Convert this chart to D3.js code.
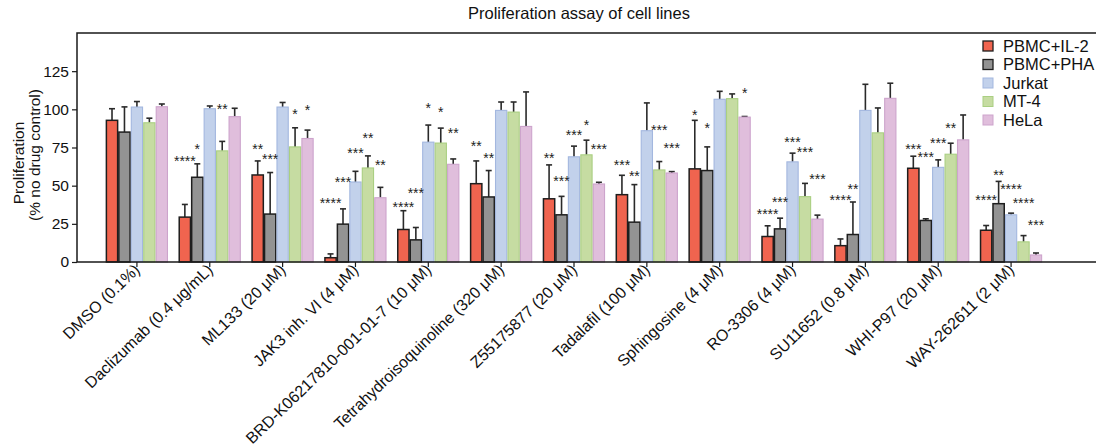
<!DOCTYPE html>
<html>
<head>
<meta charset="utf-8">
<script src="https://cdn.jsdelivr.net/npm/d3@7"></script>
<style>
  html, body { margin: 0; padding: 0; background: #fff; }
  svg { display: block; font-family: "Liberation Sans", Arial, sans-serif; }
</style>
</head>
<body>
<svg id="chart" width="1096" height="447"></svg>
<script>
const categories = ["DMSO (0.1%)", "Daclizumab (0.4 μg/mL)", "ML133 (20 μM)", "JAK3 inh. VI  (4 μM)",
  "BRD-K06217810-001-01-7  (10 μM)", "Tetrahydroisoquinoline (320 μM)", "Z55175877 (20 μM)",
  "Tadalafil (100 μM)", "Sphingosine (4 μM)", "RO-3306 (4 μM)", "SU11652 (0.8 μM)",
  "WHI-P97 (20 μM)", "WAY-262611 (2 μM)"];
const seriesNames = ["PBMC+IL-2", "PBMC+PHA", "Jurkat", "MT-4", "HeLa"];

const pbmcIL2     = [92.8, 29.4, 57.0, 2.8, 21.3, 51.3, 41.4, 44.1, 61.0, 16.7, 10.7, 61.4, 20.8];
const pbmcIL2Err  = [7.6, 8.3, 9.2, 2.5, 12.3, 14.9, 22.2, 12.7, 31.8, 7.0, 4.4, 7.9, 3.1];
const pbmcPHA     = [85.1, 55.5, 31.4, 24.8, 14.5, 42.6, 30.9, 26.1, 59.9, 21.7, 18.0, 27.2, 38.2];
const pbmcPHAErr  = [16.5, 8.8, 27.2, 10.0, 8.1, 17.3, 12.1, 24.6, 15.5, 7.0, 21.3, 1.1, 14.6];
const jurkat      = [101.5, 100.4, 101.5, 52.4, 78.5, 99.3, 68.9, 86.0, 106.6, 65.6, 99.3, 62.0, 30.9];
const jurkatErr   = [3.6, 1.8, 3.0, 7.0, 11.2, 5.5, 7.0, 18.2, 5.2, 5.7, 17.1, 4.9, 1.1];
const mt4         = [91.2, 72.8, 75.4, 61.6, 77.9, 98.2, 70.2, 60.3, 107.0, 42.8, 84.6, 70.6, 13.2];
const mt4Err      = [3.0, 6.2, 12.5, 7.9, 9.8, 6.6, 9.6, 5.5, 3.1, 8.7, 16.3, 7.2, 4.1];
const hela        = [101.7, 95.2, 80.9, 42.1, 64.0, 88.8, 51.1, 58.3, 94.9, 28.1, 107.2, 80.0, 4.6];
const helaErr     = [1.8, 5.5, 5.5, 6.8, 3.5, 22.6, 1.1, 0.9, 0.4, 2.6, 9.9, 16.3, 1.3];

const yTicks = [0, 25, 50, 75, 100, 125];

// significance annotations: category index, series index, label, level (in % units)
const starCat    = [1,1,1, 2,2,2,2, 3,3,3,3,3, 4,4,4,4,4, 5,5, 6,6,6,6,6, 7,7,7,7, 8,8,8, 9,9,9,9,9, 10,10, 11,11,11,11, 12,12,12,12,12];
const starSeries = [0,1,3, 0,1,3,4, 0,1,2,3,4, 0,1,2,3,4, 0,1, 0,1,2,3,4, 0,1,3,4, 0,1,4, 0,1,2,3,4, 0,1, 0,1,2,3, 0,1,2,3,4];
const starText   = ["****","*","**", "**","***","*","*", "****","***","***","**","**",
                    "****","***","*","*","**", "**","**", "**","***","***","*","***",
                    "***","**","***","***", "*","*","*", "****","***","***","***","***",
                    "****","**", "***","***","***","**", "****","**","****","****","***"];
const starLevel  = [68.2,76.3,102.2, 76.3,69.3,98.9,101.7, 40.8,54.6,73.2,83.3,65.3,
                    38.2,46.9,102.6,100.0,86.4, 78.1,70.2, 69.8,55.0,85.1,91.9,76.1,
                    65.6,58.6,88.2,76.5, 98.2,89.7,112.5, 33.1,41.2,80.3,74.1,56.1,
                    42.3,49.6, 76.3,70.6,79.8,89.7, 42.8,59.0,49.8,40.8,26.5];

const fills   = ["#f0644f", "#939393", "#c2d1eb", "#c6dca2", "#e0bedc"];
const strokes = ["#1e1e1e", "#1e1e1e", "#a3b7df", "#aacf82", "#cda4cc"];

const seriesVals = [pbmcIL2, pbmcPHA, jurkat, mt4, hela];
const seriesErrs = [pbmcIL2Err, pbmcPHAErr, jurkatErr, mt4Err, helaErr];

const svg = d3.select("#chart");
const mLeft = 77, mTop = 33, mBottom = 262, mRight = 1100;

const y = d3.scaleLinear().domain([0, 150]).range([mBottom, mTop]);
const x0 = d3.scaleBand().domain(categories).range([100.5, 1047.5]).paddingInner(0.145).paddingOuter(0.0725);
const x1 = d3.scaleBand().domain(d3.range(seriesNames.length)).range([0, x0.bandwidth()]);

// title
svg.append("text").attr("x", 579).attr("y", 19).attr("text-anchor", "middle")
  .attr("font-size", 16.5).attr("fill", "#111").text("Proliferation assay of cell lines");

const rows = [];
categories.forEach((c, i) => seriesNames.forEach((s, j) => rows.push({c, i, j, v: seriesVals[j][i], e: seriesErrs[j][i]})));

const g = svg.append("g");
const cx = d => x0(d.c) + x1(d.j) + x1.bandwidth() / 2;
const eb = g.selectAll("g.err").data(rows).join("g").attr("class", "err");
eb.append("line")
  .attr("x1", cx).attr("x2", cx)
  .attr("y1", d => y(d.v)).attr("y2", d => y(d.v + d.e))
  .attr("stroke", "#2a2a2a").attr("stroke-width", 1.6);
eb.append("line")
  .attr("x1", d => cx(d) - 3).attr("x2", d => cx(d) + 3)
  .attr("y1", d => y(d.v + d.e)).attr("y2", d => y(d.v + d.e))
  .attr("stroke", "#2a2a2a").attr("stroke-width", 1.6);

g.selectAll("rect.bar").data(rows).join("rect").attr("class", "bar")
  .attr("x", d => x0(d.c) + x1(d.j) + 0.6)
  .attr("width", x1.bandwidth() - 1.2)
  .attr("y", d => y(d.v))
  .attr("height", d => y(0) - y(d.v))
  .attr("fill", d => fills[d.j])
  .attr("stroke", d => strokes[d.j])
  .attr("stroke-width", d => d.j < 2 ? 1.5 : 1.1);

// stars
const stars = starCat.map((ci, k) => ({c: categories[ci], j: starSeries[k], t: starText[k], v: starLevel[k]}));
svg.append("g").selectAll("text").data(stars).join("text")
  .attr("x", cx)
  .attr("y", d => y(d.v) + 8)
  .attr("text-anchor", "middle")
  .attr("font-size", 14)
  .attr("fill", "#222")
  .text(d => d.t);

// frame
svg.append("path")
  .attr("d", `M${mRight},${mTop}H${mLeft}V${mBottom}H${mRight}`)
  .attr("fill", "none").attr("stroke", "#1a1a1a").attr("stroke-width", 1.5);

// y axis
const yAxis = svg.append("g").attr("transform", `translate(${mLeft},0)`)
  .call(d3.axisLeft(y).tickValues(yTicks).tickSize(5).tickPadding(3));
yAxis.select(".domain").remove();
yAxis.selectAll("line").attr("stroke", "#1a1a1a").attr("stroke-width", 1.2);
yAxis.selectAll("text").attr("font-size", 15.5).attr("fill", "#111").attr("font-family", "Liberation Sans, Arial, sans-serif");

// x axis
const xAxis = svg.append("g").attr("transform", `translate(0,${mBottom})`)
  .call(d3.axisBottom(x0).tickSize(5).tickFormat(""));
xAxis.select(".domain").remove();
xAxis.selectAll("line").attr("stroke", "#1a1a1a").attr("stroke-width", 1.2);

svg.append("g").selectAll("text").data(categories).join("text")
  .attr("transform", d => `translate(${x0(d) + x0.bandwidth() / 2 + 4},${mBottom + 9}) rotate(-44)`)
  .attr("text-anchor", "end")
  .attr("font-size", 16)
  .attr("fill", "#111")
  .text(d => d);

// y label
const yl = svg.append("text").attr("transform", "translate(23.5,163) rotate(-90)")
  .attr("text-anchor", "middle").attr("font-size", 15.5).attr("fill", "#111");
yl.append("tspan").attr("x", 0).attr("y", 0).text("Proliferation");
yl.append("tspan").attr("x", 8).attr("y", 0).attr("dy", 16.5).text("(% no drug control)");

// legend
const lg = svg.append("g");
seriesNames.forEach((s, j) => {
  const yy = 46 + j * 18.5;
  lg.append("rect").attr("x", 983).attr("y", yy - 5).attr("width", 10).attr("height", 10)
    .attr("fill", fills[j]).attr("stroke", strokes[j]).attr("stroke-width", j < 2 ? 1.3 : 1);
  lg.append("text").attr("x", 1003).attr("y", yy).attr("dy", "0.35em")
    .attr("font-size", 16.5).attr("fill", "#111").text(s);
});
</script>
</body>
</html>
